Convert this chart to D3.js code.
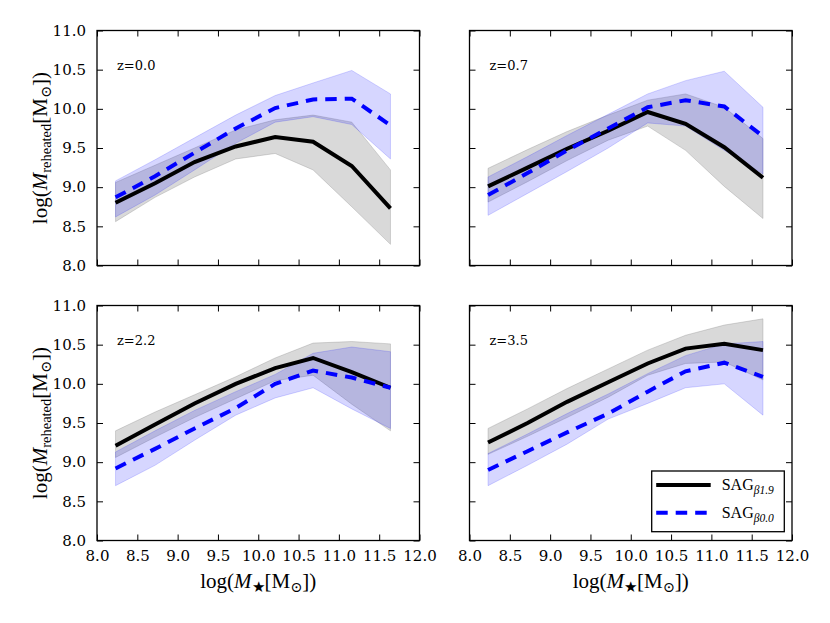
<!DOCTYPE html>
<html>
<head>
<meta charset="utf-8">
<script src="https://cdn.jsdelivr.net/npm/d3@7"></script>
<style>
  body { margin: 0; background: #fff; }
  svg { display: block; }
</style>
</head>
<body>
<svg id="chart" width="830" height="623"></svg>
<script>
// log stellar mass bin centres (same for every panel)
const massBins = [8.23, 8.72, 9.21, 9.72, 10.21, 10.68, 11.16, 11.64];
const redshiftLabels = ['z=0.0', 'z=0.7', 'z=2.2', 'z=3.5'];
const xTicks = [8.0, 8.5, 9.0, 9.5, 10.0, 10.5, 11.0, 11.5, 12.0];
const yTicks = [8.0, 8.5, 9.0, 9.5, 10.0, 10.5, 11.0];

// SAG beta 1.9 (black, solid) - median and band, one row per panel
const sag19Median = [
  [8.80, 9.05, 9.32, 9.52, 9.64, 9.58, 9.27, 8.73],
  [9.01, 9.25, 9.49, 9.72, 9.96, 9.81, 9.51, 9.12],
  [9.21, 9.48, 9.75, 10.00, 10.20, 10.33, 10.15, 9.95],
  [9.25, 9.50, 9.77, 10.02, 10.26, 10.45, 10.51, 10.43]
];
const sag19Lower = [
  [8.56, 8.87, 9.13, 9.36, 9.43, 9.22, 8.75, 8.27],
  [8.81, 9.07, 9.34, 9.60, 9.78, 9.47, 9.01, 8.60],
  [9.06, 9.32, 9.57, 9.81, 10.04, 10.11, 9.74, 9.40],
  [9.10, 9.33, 9.57, 9.83, 10.11, 10.26, 10.28, 10.05]
];
const sag19Upper = [
  [9.06, 9.28, 9.50, 9.73, 9.86, 9.92, 9.83, 9.22],
  [9.24, 9.48, 9.71, 9.92, 10.11, 10.19, 10.02, 9.62],
  [9.40, 9.64, 9.86, 10.09, 10.33, 10.52, 10.54, 10.51],
  [9.43, 9.68, 9.94, 10.19, 10.43, 10.62, 10.75, 10.83]
];

// SAG beta 0.0 (blue, dashed)
const sag00Median = [
  [8.87, 9.14, 9.44, 9.75, 10.01, 10.12, 10.13, 9.79],
  [8.90, 9.18, 9.47, 9.75, 10.02, 10.11, 10.03, 9.65],
  [8.92, 9.17, 9.43, 9.69, 10.00, 10.17, 10.08, 9.95],
  [8.90, 9.14, 9.38, 9.62, 9.90, 10.16, 10.27, 10.09]
];
const sag00Lower = [
  [8.62, 8.90, 9.22, 9.56, 9.83, 9.90, 9.80, 9.36],
  [8.64, 8.92, 9.20, 9.50, 9.82, 9.78, 9.47, 9.17],
  [8.70, 8.96, 9.28, 9.60, 9.82, 9.95, 9.68, 9.43],
  [8.70, 8.96, 9.23, 9.55, 9.75, 9.95, 10.00, 9.60]
];
const sag00Upper = [
  [9.08, 9.35, 9.63, 9.92, 10.17, 10.33, 10.49, 10.19],
  [9.13, 9.39, 9.66, 9.93, 10.19, 10.36, 10.48, 10.02],
  [9.13, 9.40, 9.66, 9.90, 10.12, 10.39, 10.47, 10.41],
  [9.11, 9.36, 9.62, 9.87, 10.13, 10.36, 10.51, 10.54]
];

const legendNames = [['SAG', 'β1.9'], ['SAG', 'β0.0']];

const svg = d3.select('#chart');
const colX = [97, 469.5];
const rowY = [30.5, 305.5];
const pw = 322.5, ph = 235;
const tickFont = "'DejaVu Serif', 'Liberation Serif', serif";
const mathFont = "'Liberation Serif', 'DejaVu Serif', serif";

const x = d3.scaleLinear().domain([8, 12]).range([0, pw]);
const y = d3.scaleLinear().domain([8, 11]).range([ph, 0]);

const line = (vals) => d3.line()
  .x((d, i) => x(massBins[i]))
  .y(d => y(d))(vals);
const band = (lo, hi) => d3.area()
  .x((d, i) => x(massBins[i]))
  .y0((d, i) => y(lo[i]))
  .y1((d, i) => y(hi[i]))(lo);

redshiftLabels.forEach((lab, p) => {
  const col = p % 2, row = Math.floor(p / 2);
  const g = svg.append('g')
    .attr('transform', `translate(${colX[col]},${rowY[row]})`);

  // bands
  g.append('path')
    .attr('d', band(sag19Lower[p], sag19Upper[p]))
    .attr('fill', 'gray').attr('fill-opacity', 0.3)
    .attr('stroke', 'gray').attr('stroke-opacity', 0.3).attr('stroke-width', 1);
  g.append('path')
    .attr('d', band(sag00Lower[p], sag00Upper[p]))
    .attr('fill', 'blue').attr('fill-opacity', 0.16)
    .attr('stroke', 'blue').attr('stroke-opacity', 0.16).attr('stroke-width', 1);

  // medians
  g.append('path')
    .attr('d', line(sag19Median[p]))
    .attr('fill', 'none').attr('stroke', '#000').attr('stroke-width', 4);
  g.append('path')
    .attr('d', line(sag00Median[p]))
    .attr('fill', 'none').attr('stroke', '#0000ff').attr('stroke-width', 4)
    .attr('stroke-dasharray', '11.5,8');

  // axes with inward ticks on all four sides
  const ax = (axis, tr) => {
    const a = g.append('g').attr('transform', tr).call(axis);
    a.select('.domain').remove();
    a.selectAll('.tick line').attr('stroke', '#000').attr('stroke-width', 1);
    a.selectAll('text').style('font-family', tickFont).style('font-size', '15px').attr('fill', '#000');
    return a;
  };
  const fmt = d3.format('.1f');
  const bottom = ax(d3.axisBottom(x).tickValues(xTicks).tickSize(-6).tickPadding(10).tickFormat(fmt), `translate(0,${ph})`);
  ax(d3.axisTop(x).tickValues(xTicks).tickSize(-6).tickFormat(''), 'translate(0,0)');
  const left = ax(d3.axisLeft(y).tickValues(yTicks).tickSize(-6).tickPadding(11).tickFormat(fmt), 'translate(0,0)');
  ax(d3.axisRight(y).tickValues(yTicks).tickSize(-6).tickFormat(''), `translate(${pw},0)`);
  if (row === 0) bottom.selectAll('text').remove();
  if (col === 1) left.selectAll('text').remove();

  g.append('rect')
    .attr('width', pw).attr('height', ph)
    .attr('fill', 'none').attr('stroke', '#000').attr('stroke-width', 1.3);

  g.append('text')
    .attr('x', 20).attr('y', 39.5)
    .style('font-family', tickFont).style('font-size', '13px')
    .text(lab);

  // y label
  if (col === 0) {
    const t = g.append('text')
      .attr('transform', `translate(-50,${ph / 2}) rotate(-90)`)
      .attr('text-anchor', 'middle')
      .style('font-family', mathFont).style('font-size', '21px');
    t.append('tspan').text('log(');
    t.append('tspan').attr('font-style', 'italic').text('M');
    t.append('tspan').style('font-size', '14.5px').attr('dy', 4).text('reheated');
    t.append('tspan').attr('dy', -4).text('[M');
    t.append('tspan').style('font-size', '14.5px').attr('dy', 4).text('⊙');
    t.append('tspan').attr('dy', -4).text('])');
  }
  // x label
  if (row === 1) {
    const t = g.append('text')
      .attr('x', pw / 2).attr('y', ph + 47)
      .attr('text-anchor', 'middle')
      .style('font-family', mathFont).style('font-size', '21px');
    t.append('tspan').text('log(');
    t.append('tspan').attr('font-style', 'italic').text('M');
    t.append('tspan').style('font-size', '14.5px').attr('dy', 4).text('★');
    t.append('tspan').attr('dy', -4).text('[M');
    t.append('tspan').style('font-size', '14.5px').attr('dy', 4).text('⊙');
    t.append('tspan').attr('dy', -4).text('])');
  }

  // legend in last panel
  if (p === 3) {
    const lg = g.append('g').attr('transform', `translate(${651.7 - colX[1]},${471 - rowY[1]})`);
    lg.append('rect')
      .attr('width', 132.6).attr('height', 60.7)
      .attr('fill', '#fff').attr('stroke', '#000').attr('stroke-width', 1.3);
    legendNames.forEach((nm, i) => {
      const ly = 14 + i * 27.7;
      lg.append('line')
        .attr('x1', 4.5).attr('x2', 59).attr('y1', ly).attr('y2', ly)
        .attr('stroke', i === 0 ? '#000' : '#0000ff').attr('stroke-width', 4)
        .attr('stroke-dasharray', i === 0 ? null : '11.5,8');
      const t = lg.append('text')
        .attr('x', 70).attr('y', ly + 5)
        .style('font-family', mathFont).style('font-size', '16px');
      t.append('tspan').text(nm[0]);
      t.append('tspan').style('font-size', '11.5px').attr('font-style', 'italic').attr('dy', 4).text(nm[1]);
    });
  }
});
</script>
</body>
</html>
